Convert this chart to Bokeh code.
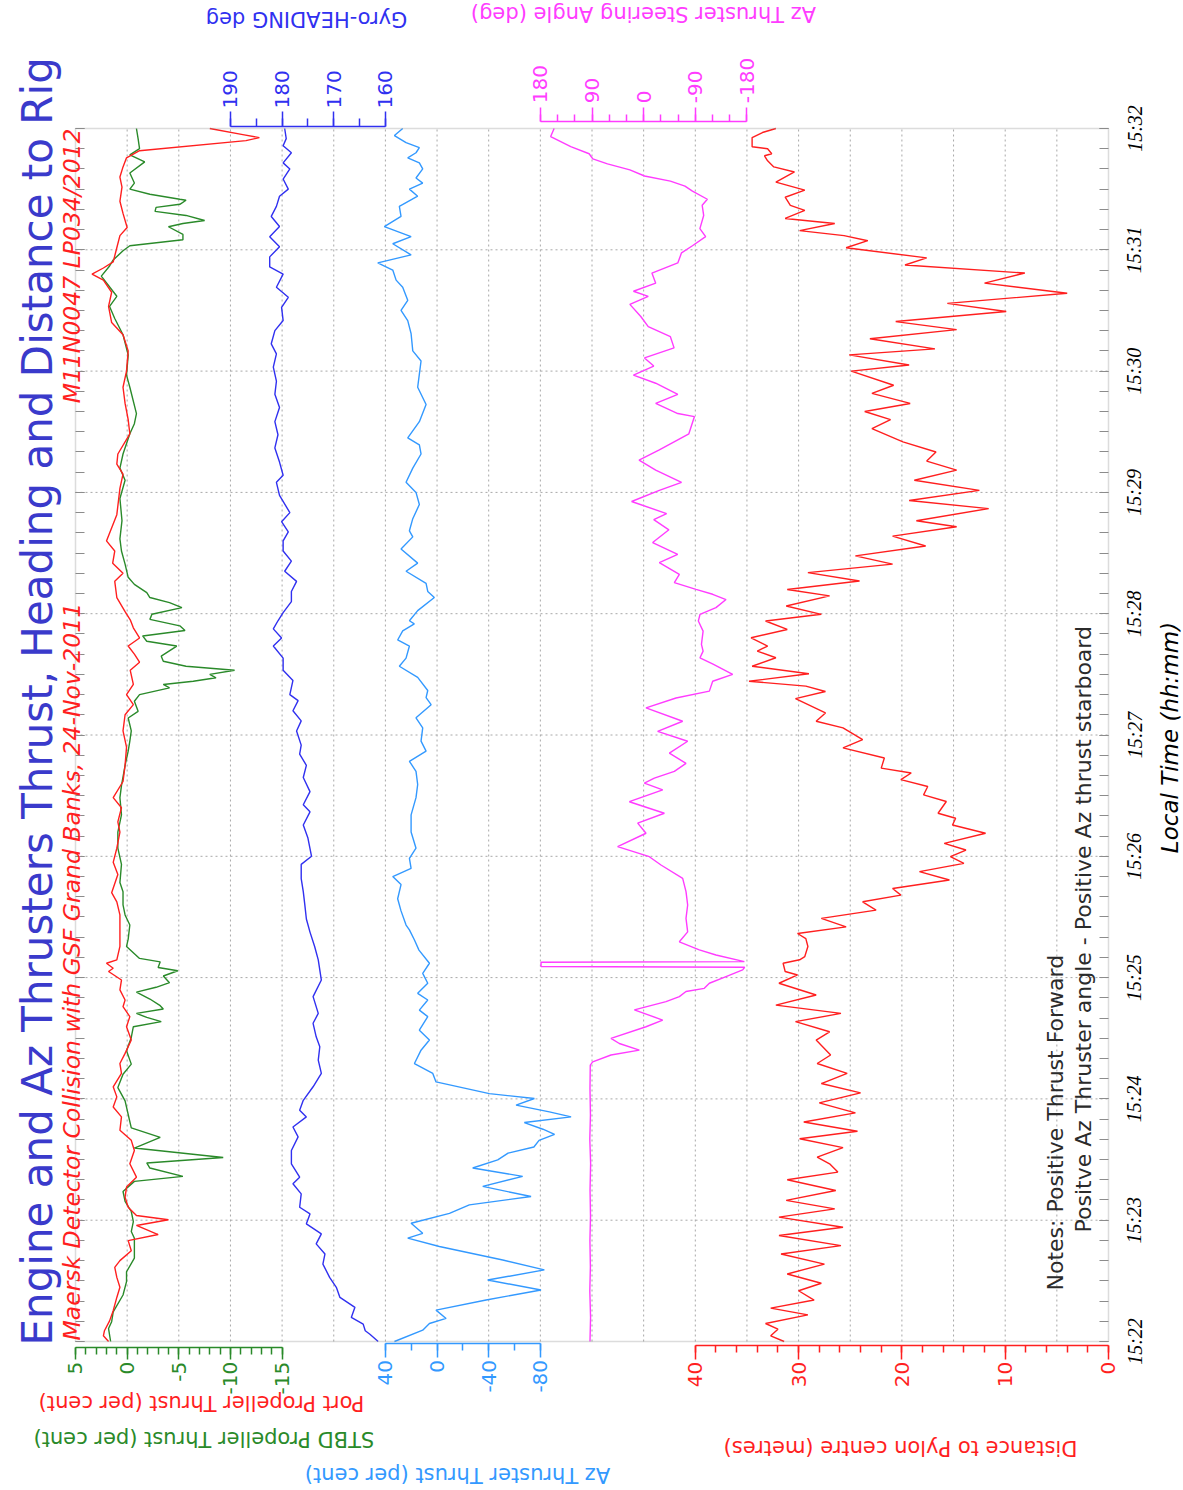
import math

from bokeh.embed import file_html
from bokeh.models import (BoxAnnotation, ColumnDataSource, FixedTicker, Label, LabelSet,
                          LinearAxis, Range1d)
from bokeh.plotting import figure
from bokeh.resources import INLINE

# ---------------------------------------------------------------------------
# Recorded data: time in seconds after 15:22:00 local time
# ---------------------------------------------------------------------------
time_ticks = [0, 60, 120, 180, 240, 300, 360, 420, 480, 540, 600]
time_labels = ["15:22", "15:23", "15:24", "15:25", "15:26", "15:27",
               "15:28", "15:29", "15:30", "15:31", "15:32"]

# Port propeller thrust (per cent)
port_t = [0, 2.8, 5.3, 10.2, 15.2, 21.8, 26.8, 31.7, 36.7, 40, 44.9, 49.9, 52.9,
          57.4, 60.2, 62.3, 66.4, 71.4, 76.4, 81.3, 87.9, 94.5, 99.5, 104.5,
          111.1, 116, 121, 126, 132.6, 137.5, 142.5, 149.1, 155.7, 160.7, 165.6,
          168.9, 173.9, 178.8, 183, 184.6, 187.1, 188.8, 195.4, 203, 211, 217.5,
          222, 231, 237, 244, 252, 257, 264, 269, 277, 285, 294, 302, 310, 315,
          320, 325, 332, 336, 340, 344, 348, 353, 357, 361, 368, 376, 380, 385,
          391, 396, 409, 422, 429, 434, 439, 449, 456, 464, 472, 480, 490, 498,
          504, 512, 519, 525, 528, 531, 534, 541, 547, 551, 558, 564, 571, 576,
          581, 585.5, 589, 594, 595.5, 597, 600]
port_pct = [1.8, 2.3, 2.2, 1.7, 1.35, 1.0, 0.7, 1.0, 1.2, 0.7, -0.4, -0.1, -3.0,
            -0.9, -4.0, -0.9, -0.1, 0.2, 0.06, -0.9, -0.26, -0.7, -0.4, 0.7,
            0.55, 1.35, 1.0, 1.35, 0.55, 0.7, 0.2, -0.4, 0.06, -0.26, 0.4,
            0.2, 0.7, 0.55, 1.8, 1.35, 2.0, 1.0, 0.7, 0.7, 0.7, 1.0,
            1.5, 0.9, 1.35, 1.0, 0.7, 0.9, 0.55, 1.35, 0.4, 0.2, 0.06, 0.4, 0.2, -0.6,
            0.06, -0.6, -0.3, -1.2, -0.7, -0.1, -1.2, -0.6, -0.3, 0.2, 1.0, 1.2, 0.4, 1.4,
            1.2, 2.0, 1.0, 0.7, 0.4, 1.0, 0.9, -0.26, -0.1, 0.2, 0.4, 0.06, -0.1, 0.4,
            1.5, 1.8, 1.5, 2.3, 3.4, 2.3, 1.35, 1.0, 0.7, 0.0, 0.4, 0.7, 0.5, 0.7,
            0.4, 0.06, -1.2, -11.5, -12.8, -11.2, -8.0]

# Starboard propeller thrust (per cent)
stbd_t = [0, 6.4, 9.8, 14.7, 23, 29.6, 34.5, 41.2, 51.1, 54.4, 59.3, 64.3, 69.3,
          74.2, 79.2, 81.7, 85.8, 88.3, 91, 95.7, 101, 105.7, 112.3, 119, 125.6,
          132.2, 137.2, 143.8, 150.4, 155.7, 158.2, 160.3, 162.3, 164.5, 166.1,
          169.4, 172.8, 175.2, 177.5, 180.8, 183.4, 185, 187.8, 189.5, 195.4, 199,
          206, 211, 216, 222.5, 227, 236, 244, 252, 260.5, 269, 275, 285, 292, 297,
          302, 308.4, 311.7, 316.7, 320, 323.3, 325, 326.6, 328.3, 330, 332, 334,
          336.5, 339, 344, 346.4, 349, 351.7, 354, 357.2, 359.7, 363, 365.5, 368,
          370.4, 374.5, 378, 384.5, 391, 397, 406, 417, 426, 432, 439, 449, 454,
          459, 472, 478, 488, 498, 506, 512, 517, 527, 532, 535, 539.5, 542, 545,
          547.6, 551.4, 553, 554.5, 557, 559, 561, 562.5, 564.5, 565, 567.5, 570,
          573, 578, 583.5, 587, 590, 595, 600]
stbd_pct = [1.6, 1.8, 1.5, 1.35, 0.4, 0.06, 0.06, -0.7, -0.7, -0.4, -0.6, -0.4, 0.2,
            0.4, -0.7, -5.4, -2.2, -1.9, -9.3, -0.7, -3.2, -0.4, -0.1, 0.2, 0.9,
            0.4, -0.4, 0.06, -0.4, -0.6, -3.3, -1.9, -0.9, -3.5, -3.2,
            -2.2, -0.9, -2.8, -4.1, -3.5, -4.9, -3.0, -3.2, -1.2, 0.06, -0.1,
            -0.26, 0.2, 0.4, 0.4, 0.7, 0.55, 0.9, 0.9, 0.55, 0.7, 0.55, 0.2, -0.1, -0.26,
            -0.4, -0.1, -1.06, -0.7, -1.2, -4.1, -3.5, -6.4, -8.6, -8.0, -10.4, -5.7,
            -3.5, -3.3, -4.8, -1.9, -1.5, -5.6, -5.1, -2.2, -2.4, -5.3, -4.1, -2.2,
            -1.9, -0.7, -0.1, 0.2, 0.55, 0.7, 0.5, 0.7, 0.2, 0.7, 0.4, -0.26, -0.7,
            -0.9, -0.26, 0.06, -0.1, 0.4, 1.2, 1.7, 1.0, 2.5, 1.7, 1.35, 0.4, -0.26, -5.4,
            -5.4, -4.0, -5.4, -7.5, -5.7, -2.7, -2.8, -5.1, -5.7, -5.1, -2.2, -0.26,
            -0.7, -0.26, -1.7, -0.26, -1.2, -1.06, -0.9]

# Gyro heading (deg)
gyro_t = [0, 3.6, 5.3, 8.6, 11.9, 16.9, 21.8, 26.8, 31.7, 38.3, 43.3, 48.3, 53.2,
          58.2, 63.1, 66.4, 73, 78, 81.3, 87.9, 94.5, 101.2, 106.1, 111.1, 114.4,
          119.3, 126, 132.6, 139.2, 145.8, 150.7, 157.4, 162.3, 170.6, 178.8, 188.8,
          195.4, 202.5, 209, 216, 222.5, 229, 236, 240, 249, 255.5, 262, 265.5, 272,
          279, 285, 290.5, 295, 302, 307, 312, 317, 320, 327, 332, 338, 344, 348,
          352.5, 356.5, 360.5, 366, 371, 376, 381, 386, 391, 396, 400.5, 405.5, 410,
          418.5, 425, 428.5, 435, 442, 448.5, 455, 462, 468.5, 475, 482, 488.5,
          493.5, 500, 505, 511.5, 516.5, 521.5, 528, 531.5, 536.5, 541.5, 546.5,
          551.5, 556.5, 561.5, 566.5, 570, 575, 580, 583, 588, 591.5, 595, 600]
gyro_deg = [161.4, 163.0, 163.9, 164.3, 166.6, 165.9, 168.8, 169.5, 170.8, 172.1, 171.7, 173.4, 172.4,
            175.3, 174.6, 176.6, 176.3, 177.9, 176.6, 178.2, 178.2, 176.9, 177.9, 175.3, 176.6,
            175.9, 174.0, 172.4, 173.0, 172.7, 173.4, 174.0, 173.0, 174.0, 172.4, 173.0,
            173.7, 174.6, 175.3, 175.6, 175.9, 176.3, 176.3, 174.3, 175.0, 175.9, 174.6, 175.9, 174.6,
            175.9, 175.3, 176.6, 176.3, 177.2, 176.3, 177.9, 176.9, 178.5, 177.9, 179.8, 179.8, 181.7, 180.1,
            181.7, 180.8, 179.8, 178.2, 178.2, 177.2, 179.5, 178.2, 179.8, 179.8, 178.8, 180.1, 178.5,
            180.5, 181.1, 179.8, 180.5, 181.4, 180.8, 181.4, 180.5, 181.4, 181.1, 181.7, 181.1,
            182.1, 181.4, 179.8, 180.1, 178.8, 181.1, 179.8, 182.4, 182.4, 180.5, 182.4,
            180.5, 182.1, 181.1, 180.5, 178.8, 179.8, 178.5, 179.8, 178.2, 179.8, 179.2, 179.5]

# Az thruster thrust (per cent)
az_t = [0, 5.6, 8.9, 11.4, 15.5, 20.5, 25.5, 30.4, 35.4, 40.3, 47, 51.1, 53.5, 58.5,
        63.4, 67.6, 71.7, 76.7, 81.7, 85.8, 89.8, 93.2, 96.2, 99.5, 102.5, 105,
        108.3, 111.1, 113.6, 116.9, 120.2, 122.6, 128.4, 132.6, 137.5, 144.1, 149.1,
        154, 160.7, 163.9, 168.9, 172.2, 177.2, 182.1, 187.1, 193.6, 198.6, 203.6,
        206, 213, 219, 226, 230, 234, 239, 244, 252, 260.5, 269, 275.5, 282, 287,
        292, 297, 303.5, 308.5, 315, 318.5, 322, 328.5, 334, 338, 344, 347, 351.5,
        355, 356.5, 361.5, 368, 371, 375, 381, 385, 392, 398, 401, 407, 414, 420,
        425, 432, 439, 443.5, 447, 455, 463.5, 472, 478.5, 485, 490, 498.5, 505,
        510, 515, 521.5, 525, 530, 533.5, 537.5, 543, 546.5, 551.5, 556.5, 561.5,
        566.5, 570, 573, 575.5, 580, 583, 585.5, 588, 590.5, 593, 596.5, 600]
az_pct = [33.0, 11.1, 5.9, -7.0, 0.8, -38.0, -80.5, -39.2, -83.1, -50.9, -1.8, 22.7, 11.1, 20.1,
          -9.6, -25.0, -72.8, -35.4, -66.3, -27.6, -47.0, -55.0, -75.0, -79.0, -91.0, -82.0,
          -67.6, -103.8, -87.0, -61.2, -75.4, -40.5, 0.8, 3.3, 17.5, 12.4, 5.9,
          13.7, 7.2, 13.7, 7.2, 15.0, 7.2, 11.1, 5.9, 14.0, 17.5, 21.4,
          24.0, 27.9, 30.5, 27.9, 34.3, 20.1, 21.4, 16.3, 20.1, 20.1, 16.3, 15.0, 16.3, 21.4,
          8.5, 12.4, 11.1, 16.3, 4.6, 8.5, 7.2, 15.0, 29.2, 24.0, 21.4, 30.5, 26.6,
          17.6, 21.4, 15.0, 2.1, 7.2, 8.5, 24.0, 15.0, 27.9, 18.8, 21.4, 18.8, 13.7, 16.3,
          24.0, 18.8, 12.4, 13.7, 22.7, 13.7, 8.5, 15.0, 13.7, 12.4, 18.8, 20.1, 22.7,
          27.9, 22.7, 26.6, 31.7, 34.3, 45.9, 20.1, 34.3, 20.1, 40.8, 27.9, 29.2,
          15.0, 21.4, 11.1, 16.3, 11.1, 13.7, 22.7, 16.3, 13.7, 24.0, 33.0, 26.6]

# Az thruster steering angle (deg)
steer_t = [0, 12, 25, 37, 50, 62, 75, 88, 100, 112, 125, 136.7, 138.3, 141.7, 144.1,
           147.4, 149.9, 155.7, 159, 164, 168.1, 170.6, 173.1, 174.7, 177.2, 180.5,
           183.8, 185.1, 185.5, 187.6, 187.9, 191.2, 193.7, 197.7, 202.6, 209.3,
           215.9, 222.5, 229.1, 235.7, 239.8, 244.8, 251.4, 256.4, 261.3, 267, 272.9,
           276.2, 278.7, 282, 286, 291, 296.9, 301.8, 306.8, 313.4, 318.3, 321.7,
           326.6, 330, 335, 338.2, 341.5, 344.8, 351.4, 356.4, 359.7, 363, 367,
           369.6, 372, 375.4, 379.5, 385.3, 389.4, 395.2, 401.5, 406.5, 409.5, 415.5,
           421, 425, 431, 436, 441, 444, 449, 457.5, 459, 464, 468.5, 474, 478,
           482.5, 486.5, 491.5, 497, 502, 507, 513, 517, 519.5, 523.5, 528.5, 533.5,
           538.5, 542, 546.5, 550.5, 557, 562, 565, 569, 571.5, 574, 576.5, 579.5,
           582.5, 585, 587.5, 591, 596, 600]
steer_deg = [93.5, 92.5, 93.8, 92.8, 93.6, 92.6, 93.4, 92.4, 93.8, 92.7, 93.5, 93.0, 88.8, 56.9, 7.5,
             42.4, 56.9, -4.1, -33.2, 16.2, -39.0, -62.2, -73.8, -105.7, -114.5, -143.5,
             -172.5, -176.0, 178.8, 178.8, -175.5, -126.0, -97.0, -62.2, -76.7, -73.8,
             -76.7, -73.8, -68.0, -30.2, -9.9, 45.3, -4.1, 10.4, -36.1, 24.9, -33.2,
             -1.2, -18.6, -53.5, -73.8, -44.8, -76.7, -24.4, -68.0, -4.1, -56.4, -114.5,
             -120.3, -155.1, -120.9, -98.2, -103.6, -100.7, -103.6, -95.3, -98.2, -126.0, -143.5,
             -120.3, -91.2, -53.5, -62.2, -27.3, -59.3, -15.7, -44.0, -17.6, -40.0, 21.0,
             -27.3, -66.0, -21.0, 8.0, -27.3, -46.6, -78.8, -88.5, -59.5, -21.0, -59.5, -21.0, 17.8,
             -17.6, -1.5, -53.0, -46.6, -8.0, 5.0, 24.0, -8.0, 17.8, -21.0, -14.4, -59.5,
             -66.0, -85.0, -108.0, -98.0, -104.6, -102.0, -111.0, -85.0, -72.0, -46.6, -1.5, 24.0,
             63.0, 88.6, 95.0, 127.0, 162.0, 156.0]

# Distance to pylon centre (metres)
dist_t = [0, 2.8, 6.1, 8.9, 13.2, 16.5, 20.5, 25.1, 28.8, 33.4, 38.3, 43.3, 47.4,
          52.4, 56.5, 61.5, 65.6, 69.8, 74.7, 80, 83.8, 87.9, 91.2, 95.9, 100.3, 104,
          108.6, 113.1, 118, 123, 127.6, 132.6, 137.5, 141.7, 149.1, 153.2, 158.2,
          162.3, 166.4, 171.4, 177.2, 181.3, 183, 187.1, 188.8, 190.4, 195.4, 199.3,
          201.8, 205.1, 209.3, 213.4, 217.5, 220.8, 224.1, 228.3, 232.4, 236.5, 239.8,
          243.1, 246.4, 251.4, 255.5, 258.8, 261.3, 267.1, 270.4, 274.5, 277.9, 281.2,
          283.6, 288.6, 293.6, 297.7, 303.5, 306.8, 310.9, 318, 321.5, 324.2, 326.6,
          330.3, 334, 338.2, 341.5, 344, 348.1, 352.2, 356.4, 359.7, 363.8, 368.8,
          372, 376.2, 380.3, 384.5, 388.6, 393.5, 398.4, 403, 406, 412, 416, 421,
          426, 431, 435.5, 440, 445, 451.5, 456, 460, 464, 469, 473, 480, 483, 488,
          491, 496, 500.5, 504.5, 509.5, 513.5, 518.5, 523.5, 528.5, 532.5, 536, 541,
          544.5, 547, 549.5, 553, 555.5, 559.5, 562, 566, 569.5, 573.5, 578.5, 581,
          584, 586.5, 587.5, 590, 591, 595.5, 598, 600]
dist_m = [31.4, 32.7, 32.0, 33.2, 29.1, 32.7, 28.5, 30.0, 27.8, 31.1, 27.5, 31.7, 25.9,
          31.9, 25.7, 31.9, 26.5, 31.2, 26.4, 31.1, 26.2, 27.0, 28.2, 25.7, 29.9, 24.3,
          29.5, 24.5, 28.0, 24.0, 27.8, 25.3, 28.2, 26.9, 28.3, 27.0, 30.3,
          25.9, 32.2, 28.3, 31.9, 30.1, 31.3, 31.5, 29.9, 29.4, 29.1, 29.3,
          30.1, 25.4, 27.8, 22.5, 23.8, 20.1, 20.9, 15.4, 18.3, 14.0, 15.3,
          13.8, 15.9, 11.9, 15.1, 14.8, 16.5, 15.7, 17.9, 17.5, 20.1, 19.1,
          22.0, 21.7, 25.7, 23.8, 25.7, 28.3, 27.4, 30.3, 27.4, 29.3, 34.8,
          29.0, 34.5, 32.2, 34.0, 33.0, 34.6, 31.1, 33.2, 27.8, 31.2, 27.0,
          31.1, 24.1, 29.1, 20.9, 24.5, 17.7, 20.9, 14.7, 18.6, 11.6, 19.3, 12.5,
          18.8, 14.7, 17.6, 16.7, 19.9, 22.9, 21.1, 23.6, 19.2, 22.9, 20.8, 24.9, 19.3, 25.1,
          16.8, 23.1, 14.7, 20.6, 9.9, 15.6, 4.0, 12.0, 8.1, 19.7, 17.6, 25.4,
          23.3, 25.6, 29.9, 26.5, 31.3, 29.4, 30.8, 31.3, 29.4, 32.2, 30.4, 32.4,
          33.0, 33.3, 32.6, 33.0, 34.5, 34.5, 33.5, 32.2]

# ---------------------------------------------------------------------------
# Axis tick definitions for every band
# ---------------------------------------------------------------------------
thrust_ticks = [5, 0, -5, -10, -15]
thrust_labels = ["5", "0", "-5", "-10", "-15"]
gyro_ticks = [190, 180, 170, 160]
gyro_labels = ["190", "180", "170", "160"]
az_ticks = [40, 0, -40, -80]
az_labels = ["40", "0", "-40", "-80"]
steer_ticks = [180, 90, 0, -90, -180]
steer_labels = ["180", "90", "0", "-90", "-180"]
dist_ticks = [40, 30, 20, 10, 0]
dist_labels = ["40", "30", "20", "10", "0"]
dist_grid = [5, 10, 15, 20, 25, 30, 35, 40, 45, 50, 55, 60, 65, 70, 75, 80, 85, 90, 95]
minute_grid = time_ticks[1:-1]

RED = "#ff1f1f"
GREEN = "#2a8a2a"
BLUE = "#3030f0"
SKY = "#3399ff"
PINK = "#ff3cff"
TITLE_BLUE = "#3a3acb"
FRAME = "#8c8c8c"
GRIDC = "#a8a8a8"
FONT = "DejaVu Sans"

# page geometry: the drawing canvas and the data box inside it
W, H = 1183, 1490
BOX_L, BOX_R, BOX_T, BOX_B = 75, 1108, 128, 1341


def x_span(v_left, v_right):
    """Range whose values v_left / v_right fall on the data-box edges."""
    k = (v_right - v_left) / (BOX_R - BOX_L)
    return Range1d(v_left - BOX_L * k, v_right + (W - BOX_R) * k)


def y_span(v_bottom, v_top):
    k = (v_top - v_bottom) / (BOX_B - BOX_T)
    return Range1d(v_bottom - (H - BOX_B) * k, v_top + BOX_T * k)


p = figure(width=W, height=H, output_backend="svg", toolbar_location=None,
           x_range=x_span(100, 0), y_range=y_span(0, 600),
           x_axis_location=None, y_axis_location=None,
           min_border=0, min_border_left=0, min_border_right=0,
           min_border_top=0, min_border_bottom=0)
p.grid.visible = False
p.outline_line_color = None
p.background_fill_color = "white"
p.border_fill_color = "white"

p.extra_x_ranges = {
    "thrust": x_span(5, -95),
    "gyro": x_span(220, 20),
    "az": x_span(280, -520),
    "steer": x_span(990, -810),
    "px": x_span(BOX_L, BOX_R),
}
p.extra_y_ranges = {"py": y_span(BOX_B, BOX_T)}

# dotted grid: every 5 m across, every minute down
p.segment(x0=dist_grid, x1=dist_grid, y0=[0] * len(dist_grid), y1=[600] * len(dist_grid),
          line_color=GRIDC, line_dash="2 3", line_width=1)
p.segment(x0=[100] * len(minute_grid), x1=[0] * len(minute_grid), y0=minute_grid,
          y1=minute_grid, line_color=GRIDC, line_dash="2 3", line_width=1)

# inward time ticks on both vertical edges (every 10 s)
for side, loc in (("left", 100), ("right", 0)):
    tax = LinearAxis(fixed_location=loc, bounds=(0, 600),
                     ticker=FixedTicker(ticks=time_ticks, minor_ticks=list(range(0, 601, 10))),
                     axis_line_color=None, major_label_text_color=None,
                     major_tick_in=9, major_tick_out=0, minor_tick_in=9, minor_tick_out=0,
                     major_tick_line_color=FRAME, minor_tick_line_color=FRAME,
                     major_tick_line_width=1.2, minor_tick_line_width=1.2)
    p.add_layout(tax, side)


def value_axis(range_name, loc, ticks, labels, minor, color, tick_out, minor_out, standoff):
    return LinearAxis(x_range_name=range_name, fixed_location=loc,
                      bounds=(min(ticks), max(ticks)),
                      ticker=FixedTicker(ticks=ticks, minor_ticks=minor),
                      major_label_overrides=dict(zip(ticks, labels)),
                      major_label_orientation=math.pi / 2,
                      axis_line_color=color, axis_line_width=1.5,
                      major_tick_line_color=color, minor_tick_line_color=color,
                      major_tick_line_width=1.5, minor_tick_line_width=1.5,
                      major_tick_in=0, major_tick_out=tick_out,
                      minor_tick_in=0, minor_tick_out=minor_out,
                      major_label_text_color=color, major_label_text_font=FONT,
                      major_label_text_font_size="20px", major_label_standoff=standoff)


p.add_layout(value_axis("thrust", -3.1, thrust_ticks, thrust_labels,
                        list(range(5, -16, -1)), GREEN, 12, 7, 2), "below")
p.add_layout(value_axis("az", -1.2, az_ticks, az_labels,
                        [40, 20, 0, -20, -40, -60, -80], SKY, 14, 7, 2), "below")
p.add_layout(value_axis("default", -2.1, dist_ticks, dist_labels,
                        list(range(0, 41, 2)), RED, 14, 7, 2), "below")
p.add_layout(value_axis("gyro", 601.0, gyro_ticks, gyro_labels,
                        [190, 185, 180, 175, 170, 165, 160], BLUE, 15, 8, 3), "above")
p.add_layout(value_axis("steer", 603.6, steer_ticks, steer_labels,
                        list(range(-180, 181, 30)), PINK, 14, 7, 4), "above")

# data series
p.line(stbd_pct, stbd_t, x_range_name="thrust", line_color=GREEN, line_width=1.4)
p.line(port_pct, port_t, x_range_name="thrust", line_color=RED, line_width=1.4)
p.line(gyro_deg, gyro_t, x_range_name="gyro", line_color=BLUE, line_width=1.4)
p.line(az_pct, az_t, x_range_name="az", line_color=SKY, line_width=1.4)
p.line(steer_deg, steer_t, x_range_name="steer", line_color=PINK, line_width=1.4)
p.line(dist_m, dist_t, line_color=RED, line_width=1.4)

# data-box border
p.add_layout(BoxAnnotation(left=BOX_L, right=BOX_R, top=BOX_T, bottom=BOX_B,
                           x_range_name="px", y_range_name="py",
                           fill_color=None, line_color=FRAME, line_width=1.5))

# time labels beside the right edge
time_src = ColumnDataSource(dict(t=time_ticks, label=time_labels))
p.add_layout(LabelSet(x=1134, y="t", text="label", source=time_src, x_range_name="px",
                      angle=math.pi / 2, text_align="center", text_baseline="middle",
                      text_font=FONT, text_font_style="italic", text_font_size="20px",
                      text_color="black"))


def page_label(text, x, y, color, size, angle, align="center", baseline="middle",
               style="normal"):
    p.add_layout(Label(x=x, y=y, x_range_name="px", y_range_name="py", text=text,
                       angle=angle, text_align=align, text_baseline=baseline,
                       text_color=color, text_font=FONT, text_font_size=size,
                       text_font_style=style))


up = math.pi / 2
flip = math.pi

page_label("Engine and Az Thrusters Thrust, Heading and Distance to Rig", 37, 1345,
           TITLE_BLUE, "42px", up, align="left", baseline="alphabetic")
page_label("Maersk Detector Collision with GSF Grand Banks, 24-Nov-2011", 71, 1340,
           RED, "23.5px", up, align="left", baseline="alphabetic", style="italic")
page_label("M11N0047 LP034/2012", 71, 128, RED, "23.5px", up, align="right",
           baseline="alphabetic", style="italic")

page_label("Gyro-HEADING deg", 306, 18, BLUE, "21px", flip)
page_label("Az Thruster Steering Angle (deg)", 643, 13, PINK, "21px", flip)
page_label("Port Propeller Thrust (per cent)", 201, 1402, RED, "21px", flip)
page_label("STBD  Propeller Thrust (per cent)", 200, 1438, GREEN, "21px", flip)
page_label("Az Thruster Thrust (per cent)", 457, 1474, SKY, "21px", flip)
page_label("Distance to Pylon centre (metres)", 900, 1447, RED, "21px", flip)

page_label("Local Time (hh:mm)", 1169, 737, "black", "23px", up, style="italic")

page_label("Notes:  Positive Thrust Forward", 1055, 1290, "#2b2b2b", "22px", up,
           align="left", baseline="alphabetic")
page_label("Positve Az Thruster angle - Positive Az thrust starboard", 1083, 1232,
           "#2b2b2b", "22px", up, align="left", baseline="alphabetic")

open("out.html", "w").write(file_html(p, INLINE))
